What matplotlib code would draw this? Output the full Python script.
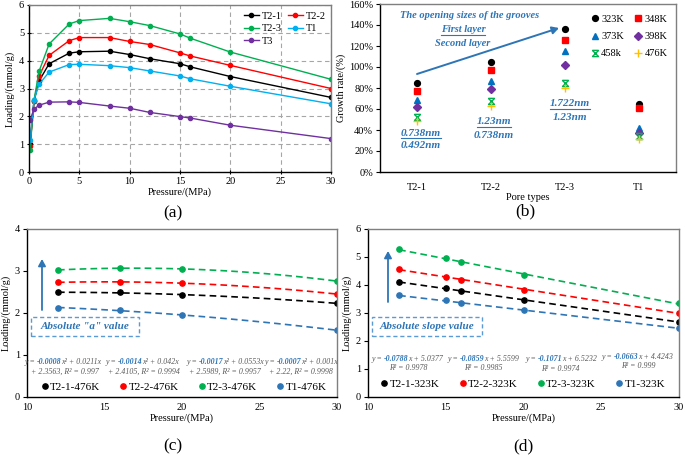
import numpy as np
import matplotlib
matplotlib.use('Agg')
import matplotlib.pyplot as plt
from matplotlib.lines import Line2D
from matplotlib.patches import Rectangle, FancyArrowPatch
from matplotlib.path import Path

plt.rcParams['font.family'] = ['Liberation Serif', 'DejaVu Serif']
plt.rcParams['font.size'] = 7.5

# ---------------- data ----------------
# (a) loading vs pressure
pressure_a = [0.1, 0.5, 1, 2, 4, 5, 8, 10, 12, 15, 16, 20, 30]
load_T2_1 = [1.00, 2.55, 3.27, 3.89, 4.27, 4.32, 4.34, 4.22, 4.07, 3.89, 3.78, 3.43, 2.68]
load_T2_2 = [0.92, 2.55, 3.45, 4.19, 4.72, 4.83, 4.83, 4.69, 4.58, 4.28, 4.17, 3.83, 3.00]
load_T2_3 = [0.80, 2.58, 3.62, 4.60, 5.32, 5.44, 5.52, 5.40, 5.26, 4.96, 4.81, 4.31, 3.33]
load_T1 = [1.15, 2.60, 3.15, 3.59, 3.86, 3.87, 3.82, 3.75, 3.63, 3.45, 3.35, 3.08, 2.45]
load_T3 = [1.87, 2.26, 2.40, 2.51, 2.52, 2.50, 2.37, 2.29, 2.14, 1.99, 1.94, 1.68, 1.20]
series_a = ['T2-1', 'T2-2', 'T2-3', 'T1', 'T3']

# (b) growth rate (%)
pore_types = ['T2-1', 'T2-2', 'T2-3', 'T1']
temps_b = ['323K', '348K', '373K', '398K', '458k', '476K']
growth_323K = [84.9, 105.0, 136.4, 65.0]
growth_348K = [77.0, 97.0, 126.0, 61.4]
growth_373K = [69.0, 86.8, 114.8, 41.7]
growth_398K = [62.0, 78.6, 101.5, 37.2]
growth_458K = [52.5, 67.4, 85.0, 34.0]
growth_476K = [48.3, 63.3, 80.0, 31.0]

# (c) 476K
pressure_c = [12, 16, 20, 30]
c_T2_1 = [2.49, 2.49, 2.43, 2.23]
c_T2_2 = [2.73, 2.74, 2.71, 2.45]
c_T2_3 = [3.02, 3.08, 3.04, 2.76]
c_T1 = [2.13, 2.06, 1.95, 1.59]
labels_c = ['T2-1-476K', 'T2-2-476K', 'T2-3-476K', 'T1-476K']
eq_c_coef = ['-0.0008', '-0.0014', '-0.0017', '-0.0007']
eq_c_rest = ['x\u00b2 + 0.0211x', 'x\u00b2 + 0.042x', 'x\u00b2 + 0.0553x', 'x\u00b2 + 0.001x']
eq_c_line2 = ['+ 2.3563, R\u00b2 = 0.997', '+ 2.4105, R\u00b2 = 0.9994',
              '+ 2.5989, R\u00b2 = 0.9957', '+ 2.22, R\u00b2 = 0.9998']

# (d) 323K
pressure_d = [12, 15, 16, 20, 30]
d_T2_1 = [4.09, 3.90, 3.79, 3.45, 2.68]
d_T2_2 = [4.58, 4.28, 4.18, 3.83, 3.00]
d_T2_3 = [5.27, 4.97, 4.82, 4.34, 3.34]
d_T1 = [3.63, 3.45, 3.35, 3.09, 2.46]
labels_d = ['T2-1-323K', 'T2-2-323K', 'T2-3-323K', 'T1-323K']
eq_d_coef = ['-0.0788', '-0.0859', '-0.1071', '-0.0663']
eq_d_rest = ['x + 5.0377', 'x + 5.5599', 'x + 6.5232', 'x + 4.4243']
eq_d_line2 = ['R\u00b2 = 0.9978', 'R\u00b2 = 0.9985', 'R\u00b2 = 0.9974', 'R\u00b2 = 0.999']

# ---------------- style ----------------
BLACK, RED, GREEN, CYAN, PURPLE = '#000000', '#FF0000', '#00B050', '#00B0F0', '#7030A0'
BLUE = '#2E75B6'
DBLUE = '#0070C0'
YELLOW = '#FFC000'
GREY_T = '#595959'
BOXC = '#5B9BD5'

W, H = 685, 455
fig = plt.figure(figsize=(W / 100, H / 100), dpi=100)
renderer = fig.canvas.get_renderer()


def rect(l, t, r, b):
    return [l / W, 1 - b / H, (r - l) / W, (b - t) / H]


def fp(x, y):
    return (x / W, 1 - y / H)


def style(ax, direction='out'):
    for s in ['left', 'bottom']:
        ax.spines[s].set_color('black')
        ax.spines[s].set_linewidth(1.0)
    for s in ['top', 'right']:
        ax.spines[s].set_color('#7F7F7F')
        ax.spines[s].set_linewidth(1.0)
    ax.tick_params(direction=direction, length=3, width=0.8, labelsize=7.5, pad=2)


def ftext(x, y, s, **kw):
    return fig.text(x / W, 1 - y / H, s, **kw)


def underline(t, color):
    bb = t.get_window_extent(renderer)
    y = bb.y0 - 0.2
    fig.add_artist(Line2D([bb.x0 / W, bb.x1 / W], [y / H, y / H], color=color, lw=0.8,
                          transform=fig.transFigure))


def rich(x, y, pieces, size=5.7):
    cx = x
    for s, c, w, gap in pieces:
        cx += gap
        t = ftext(cx, y, s, color=c, fontsize=size, fontstyle='italic', fontweight=w,
                  va='center', ha='left')
        cx += t.get_window_extent(renderer).width - 1.2


def arrow(p0, p1, color=BLUE, lw=1.5):
    fig.add_artist(FancyArrowPatch(fp(*p0), fp(*p1), transform=fig.transFigure,
                                   arrowstyle='-|>,head_length=4,head_width=2.2',
                                   color=color, lw=lw, shrinkA=0, shrinkB=0))


def dashbox(x0, y0, x1, y1, text):
    fig.add_artist(Rectangle(fp(x0, y1), (x1 - x0) / W, (y1 - y0) / H, transform=fig.transFigure,
                             fill=False, ec=BOXC, lw=1.0, ls=(0, (3, 2))))
    ftext((x0 + x1) / 2, (y0 + y1) / 2, text, color=BLUE, fontsize=8, fontweight='bold',
          fontstyle='italic', ha='center', va='center')


# ---------------- (a) ----------------
axa = fig.add_axes(rect(29, 5, 331, 172))
cols_a = [BLACK, RED, GREEN, CYAN, PURPLE]
lines_a = []
for vals, c, lab in zip([load_T2_1, load_T2_2, load_T2_3, load_T1, load_T3], cols_a, series_a):
    ln, = axa.plot(pressure_a, vals, color=c, marker='o', ms=3, lw=1, label=lab)
    lines_a.append(ln)
axa.set_xlim(0, 30)
axa.set_ylim(0, 6)
axa.set_xticks(range(0, 31, 5))
axa.set_yticks(range(0, 7))
axa.grid(True, ls=(0, (4, 3)), color='#A6A6A6', lw=0.8)
axa.set_axisbelow(True)
style(axa, 'inout')
axa.set_xlabel('Pressure/(MPa)', fontsize=7.5, labelpad=1)
axa.set_ylabel('Loading/(mmol/g)', fontsize=7.5, labelpad=3)
order = [0, 2, 4, 1, 3]
axa.legend([lines_a[i] for i in order], [series_a[i] for i in order], ncol=2,
           loc='upper right', bbox_to_anchor=(1.01, 1.01), frameon=False, fontsize=7.5,
           handlelength=1.4, handletextpad=0.3, columnspacing=0.6, labelspacing=0.3,
           borderpad=0.3)
ftext(173, 213, '(a)', fontsize=12.5, ha='center', va='center')

# ---------------- (b) ----------------
axb = fig.add_axes(rect(380, 4, 676, 172))
xb = np.arange(len(pore_types))
hour = Path([(-1, 1), (1, -1), (1, 1), (-1, -1), (-1, 1), (1, 1), (-1, -1), (1, -1)],
            [Path.MOVETO, Path.LINETO, Path.MOVETO, Path.LINETO,
             Path.MOVETO, Path.LINETO, Path.MOVETO, Path.LINETO])
specs_b = [(growth_323K, 'o', BLACK, 4.2), (growth_348K, 's', RED, 4.0),
           (growth_373K, '^', DBLUE, 4.2), (growth_398K, 'D', PURPLE, 3.6),
           (growth_458K, hour, GREEN, 4.5), (growth_476K, '+', YELLOW, 6)]
hb = []
for (vals, m, c, ms), lab in zip(specs_b, temps_b):
    if m is hour:
        h, = axb.plot(xb, vals, ls='none', marker=m, ms=ms, mfc='none', mec=c, mew=1.0, label=lab)
    elif m == '+':
        h, = axb.plot(xb, vals, ls='none', marker=m, ms=ms, color=c, mew=1.0, label=lab)
    else:
        h, = axb.plot(xb, vals, ls='none', marker=m, ms=ms, color=c, mec=c, label=lab)
    hb.append(h)
axb.set_xlim(-0.5, 3.5)
axb.set_ylim(0, 160)
axb.set_xticks(xb)
axb.set_xticklabels(pore_types)
axb.set_yticks(range(0, 161, 20))
axb.set_yticklabels([f'{v}%' for v in range(0, 161, 20)])
style(axb)
axb.tick_params(axis='x', length=0, pad=8)
axb.set_xlabel('Pore types', fontsize=7.5, labelpad=1)
axb.set_ylabel('Growth rate/(%)', fontsize=7.5, labelpad=2)
ob = [0, 2, 4, 1, 3, 5]
axb.legend([hb[i] for i in ob], [temps_b[i] for i in ob], ncol=2, loc='upper right',
           bbox_to_anchor=(1.0, 0.985), frameon=False, fontsize=7.5, handlelength=0.8,
           handletextpad=0.2, columnspacing=1.0, labelspacing=0.75, borderpad=0.3)
bi = dict(color=BLUE, fontweight='bold', fontstyle='italic', ha='center', va='center')
ftext(470, 16, 'The opening sizes of the grooves', fontsize=7.5, **bi)
t = ftext(463, 30, 'First layer', fontsize=7.5, **bi)
underline(t, BLUE)
ftext(463, 43, 'Second layer', fontsize=7.5, **bi)
arrow((417, 74), (559, 28), lw=1.4)
for (x, y1, s1, y2, s2) in [(421, 133, '0.738nm', 146, '0.492nm'),
                            (494, 122, '1.23nm', 136, '0.738nm'),
                            (570, 104, '1.722nm', 117, '1.23nm')]:
    t = ftext(x, y1, s1, fontsize=8, **bi)
    underline(t, BLUE)
    ftext(x, y2, s2, fontsize=8, **bi)
ftext(525, 211, '(b)', fontsize=12.5, ha='center', va='center')

# ---------------- (c) & (d) ----------------
cols_cd = [BLACK, RED, GREEN, BLUE]


def panel(rect_, px, series, labels, deg, ymax, leg_center):
    ax = fig.add_axes(rect_)
    hs = []
    xs = np.linspace(min(px), max(px), 100)
    for vals, c, lab in zip(series, cols_cd, labels):
        coef = np.polyfit(px, vals, deg)
        ax.plot(xs, np.polyval(coef, xs), color=c, lw=1.2, ls=(0, (4, 2.5)))
        h, = ax.plot(px, vals, ls='none', marker='o', ms=3.8, color=c, label=lab)
        hs.append(h)
    ax.set_xlim(10, 30)
    ax.set_ylim(0, ymax)
    ax.set_xticks(range(10, 31, 5))
    ax.set_yticks(range(0, ymax + 1))
    style(ax)
    ax.tick_params(axis='x', length=0, pad=4)
    ax.set_xlabel('Pressure/(MPa)', fontsize=7.5, labelpad=1)
    ax.set_ylabel('Loading/(mmol/g)', fontsize=7.5, labelpad=3)
    fig.legend(hs, labels, ncol=4, loc='center', bbox_to_anchor=fp(*leg_center),
               frameon=False, fontsize=8, handlelength=0.6, handletextpad=0.2,
               columnspacing=1.75, borderpad=0)
    return ax


axc = panel(rect(27, 229, 337, 397), pressure_c, [c_T2_1, c_T2_2, c_T2_3, c_T1],
            labels_c, 2, 4, (184, 387))
arrow((42, 310), (42, 259), lw=1.3)
dashbox(31, 317, 139, 336, 'Absolute "a" value')
for x, coef, rest in zip([25, 106, 187, 265], eq_c_coef, eq_c_rest):
    rich(x, 362, [('y =', GREY_T, 'normal', 0), (coef, BLUE, 'bold', 2.6), (rest, GREY_T, 'normal', 0)])
for x, s in zip([65, 144, 225, 301], eq_c_line2):
    ftext(x, 372, s, color=GREY_T, fontsize=5.7, fontstyle='italic', ha='center', va='center')
ftext(173, 446, '(c)', fontsize=12.5, ha='center', va='center')

axd = panel(rect(368, 229, 679, 397), pressure_d, [d_T2_1, d_T2_2, d_T2_3, d_T1],
            labels_d, 1, 6, (523, 384))
arrow((388, 302), (388, 251), lw=1.3)
dashbox(372, 317, 482, 336, 'Absolute slope value')
for x, y, coef, rest in zip([372, 448, 526, 602], [359, 359, 359, 357], eq_d_coef, eq_d_rest):
    rich(x, y, [('y =', GREY_T, 'normal', 0), (coef, BLUE, 'bold', 2.6), (rest, GREY_T, 'normal', 0)])
for x, y, s in zip([408, 483, 560, 638], [368, 368, 369, 366], eq_d_line2):
    ftext(x, y, s, color=GREY_T, fontsize=5.7, fontstyle='italic', ha='center', va='center')
ftext(523, 446, '(d)', fontsize=12.5, ha='center', va='center')

fig.savefig('out.png', dpi=100)
